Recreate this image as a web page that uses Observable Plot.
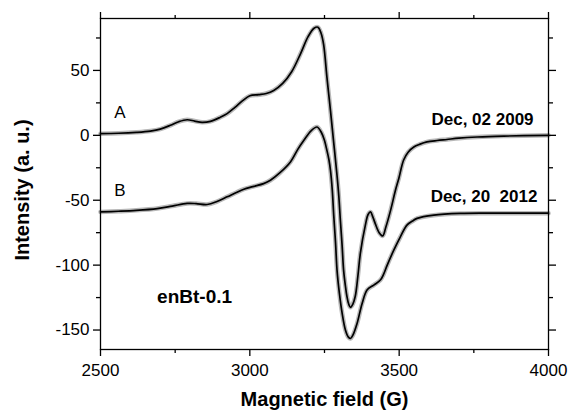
<!DOCTYPE html>
<html>
<head>
<meta charset="utf-8">
<script src="https://cdn.jsdelivr.net/npm/d3@7"></script>
<script src="https://cdn.jsdelivr.net/npm/@observablehq/plot@0.6"></script>
<style>
  html, body { margin: 0; padding: 0; background: #fff; }
  #chart { width: 571px; height: 410px; }
</style>
</head>
<body>
<div id="chart"></div>
<script>
// Spectrum A (Dec, 02 2009)
const fieldA = [2500,2560,2620,2667,2700,2734,2762,2790,2815,2840,2868,2900,2924,2950,2975,3000,3030,3055,3080,3110,3140,3170,3195,3215,3228,3238,3247,3258,3264,3270,3281,3292,3298,3303,3309,3314,3320,3325,3331,3337,3345,3353,3362,3370,3387,3396,3404,3412,3420,3433,3445,3455,3471,3488,3499,3515,3530,3549,3570,3593,3627,3660,3700,3761,3850,4000];
const intensityA = [1.3,1.6,2.3,3.3,4.8,7.7,10.5,12.0,11.0,10.0,10.8,13.8,16.7,21.5,26.5,30.5,31.3,32.2,34.6,40,49,63,76,82.5,83.3,79,70,45,32,19,-6,-31,-47,-65,-85,-104,-116,-124,-130,-132.5,-130,-124,-108,-91,-69,-61,-59,-63,-68,-75,-77.5,-71,-58,-42,-33,-19,-13,-9,-6.8,-5.1,-4,-3.2,-2.2,-1.3,-0.6,0];

// Spectrum B (Dec, 20 2012)
const fieldB = [2500,2560,2620,2690,2740,2790,2820,2857,2890,2924,2955,2980,3010,3046,3069,3100,3136,3160,3181,3205,3225,3240,3250,3258,3265,3270,3276,3281,3287,3292,3300,3309,3320,3330,3337,3345,3359,3376,3393,3415,3437,3448,3460,3482,3504,3526,3545,3560,3616,3705,3800,4000];
const intensityB = [-59,-58.5,-57.8,-56.4,-54.5,-52.5,-52.6,-53.3,-51,-47.4,-44,-41.5,-39.5,-37.2,-34.6,-29,-20.5,-11,-3.8,3.5,6.4,2,-4,-11.5,-19,-27,-42,-62,-83,-104,-122,-137,-150,-155.5,-156.5,-154,-145,-129.5,-119,-115.4,-111.5,-107,-100,-88.5,-78.2,-69.2,-66,-64,-61.5,-60.2,-60,-60];

const xTicks = [2500, 3000, 3500, 4000];
const xMinorTicks = [2750, 3250, 3750];
const yTicks = [-150, -100, -50, 0, 50];
const yMinorTicks = [-125, -75, -25, 25, 75];

const curveLabels = ["A", "B"];
const curveLabelField = [2565, 2565];
const curveLabelIntensity = [17.3, -42.3];

const dateLabels = ["Dec, 02 2009", "Dec, 20\u00a0 2012"];
const dateLabelField = [3950, 3963];
const dateLabelIntensity = [12.3, -46.9];

const sampleName = ["enBt-0.1"];
const sampleField = [2815];
const sampleIntensity = [-124.6];

const xTitle = "Magnetic field (G)";
const yTitle = "Intensity (a. u.)";

const rows = [
  ...fieldA.map((f, i) => ({field: f, intensity: intensityA[i], series: "A"})),
  ...fieldB.map((f, i) => ({field: f, intensity: intensityB[i], series: "B"}))
];

const fmt = d => String(d);
const axisStroke = 1.3;

const chart = Plot.plot({
  width: 571,
  height: 410,
  marginLeft: 100,
  marginRight: 23,
  marginTop: 18,
  marginBottom: 61,
  style: {
    fontFamily: "'Liberation Sans', Arial, sans-serif",
    fontSize: "17px",
    color: "#000",
    background: "#fff",
    overflow: "visible"
  },
  x: {domain: [2500, 4000]},
  y: {domain: [-165, 90]},
  marks: [
    Plot.line(rows, {x: "field", y: "intensity", z: "series", stroke: "#b8b8b8", strokeWidth: 4.5, curve: "catmull-rom"}),
    Plot.line(rows, {x: "field", y: "intensity", z: "series", stroke: "#000", strokeWidth: 1.7, curve: "catmull-rom"}),
    Plot.frame({stroke: "#000", strokeWidth: axisStroke}),
    // bottom axis
    Plot.axisX(xTicks, {anchor: "bottom", tickSize: 7, tickPadding: 7, tickFormat: fmt, label: null, strokeWidth: axisStroke, fontSize: 17}),
    Plot.axisX(xMinorTicks, {anchor: "bottom", tickSize: 4, fill: "none", label: null, strokeWidth: axisStroke}),
    // top axis
    Plot.axisX(xTicks, {anchor: "top", tickSize: 7, fill: "none", label: null, strokeWidth: axisStroke}),
    Plot.axisX(xMinorTicks, {anchor: "top", tickSize: 4, fill: "none", label: null, strokeWidth: axisStroke}),
    // left axis
    Plot.axisY(yTicks, {anchor: "left", tickSize: 7, tickPadding: 4, tickFormat: fmt, label: null, strokeWidth: axisStroke, fontSize: 17}),
    Plot.axisY(yMinorTicks, {anchor: "left", tickSize: 4, fill: "none", label: null, strokeWidth: axisStroke}),
    // right axis
    Plot.axisY(yTicks, {anchor: "right", tickSize: 7, fill: "none", label: null, strokeWidth: axisStroke}),
    Plot.axisY(yMinorTicks, {anchor: "right", tickSize: 4, fill: "none", label: null, strokeWidth: axisStroke}),
    // annotations
    Plot.text(curveLabels, {x: curveLabelField, y: curveLabelIntensity, text: d => d, fontSize: 17, textAnchor: "middle", lineAnchor: "middle", fill: "#000"}),
    Plot.text(dateLabels, {x: dateLabelField, y: dateLabelIntensity, text: d => d, fontSize: 17, fontWeight: "bold", textAnchor: "end", lineAnchor: "middle", fill: "#000"}),
    Plot.text(sampleName, {x: sampleField, y: sampleIntensity, text: d => d, fontSize: 19, fontWeight: "bold", textAnchor: "middle", lineAnchor: "middle", fill: "#000"}),
    // axis titles
    Plot.text([xTitle], {frameAnchor: "bottom", dy: 50, text: d => d, fontSize: 20, fontWeight: "bold", textAnchor: "middle", lineAnchor: "middle", fill: "#000"}),
    Plot.text([yTitle], {frameAnchor: "left", dx: -78, dy: 6, rotate: -90, text: d => d, fontSize: 20, fontWeight: "bold", textAnchor: "middle", lineAnchor: "middle", fill: "#000"})
  ]
});

document.getElementById("chart").appendChild(chart);
</script>
</body>
</html>
